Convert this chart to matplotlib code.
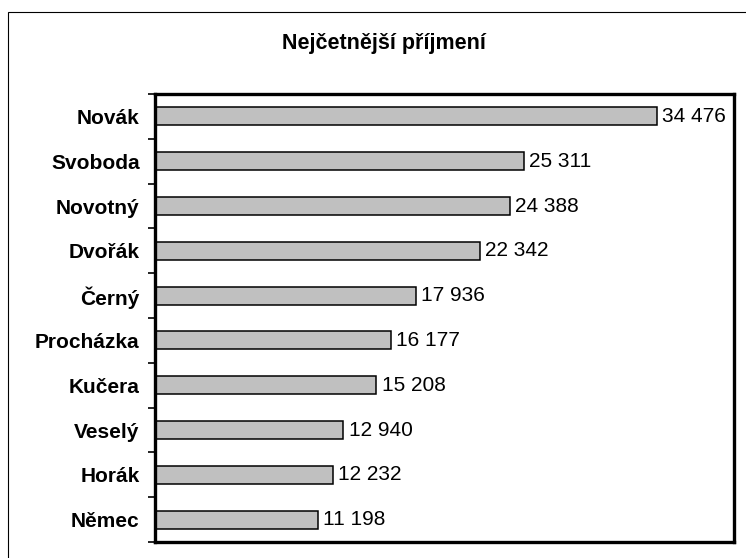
import matplotlib
matplotlib.use('Agg')
import matplotlib.pyplot as plt
from matplotlib.patches import Rectangle
import numpy as np

# most common surnames
names = ['Novák', 'Svoboda', 'Novotný', 'Dvořák', 'Černý',
         'Procházka', 'Kučera', 'Veselý', 'Horák', 'Němec']
counts = [34476, 25311, 24388, 22342, 17936, 16177, 15208, 12940, 12232, 11198]
value_labels = ['34 476', '25 311', '24 388', '22 342', '17 936',
                '16 177', '15 208', '12 940', '12 232', '11 198']

plt.rcParams['font.family'] = ['Liberation Sans', 'DejaVu Sans']

fig = plt.figure(figsize=(7.46, 5.58), dpi=100)
W, H = 746, 558
ax = fig.add_axes([155 / W, 1 - 542 / H, (734 - 155) / W, (542 - 94) / H])

y = np.arange(len(names))
ax.barh(y, counts, height=0.4, color='#c0c0c0', edgecolor='black', linewidth=1.1)

for yi, c, lab in zip(y, counts, value_labels):
    ax.text(c + 350, yi, lab, va='center', ha='left', fontsize=15)

ax.set_xlim(0, 39760)
ax.set_ylim(len(names) - 0.5, -0.5)
ax.set_xticks([])

# labels at centers, tick marks at the category borders
ax.set_yticks(y)
ax.set_yticklabels(names, fontsize=15, fontweight='bold')
ax.tick_params(axis='y', which='major', length=0, pad=11)
ax.set_yticks(np.arange(-0.5, len(names), 1), minor=True)
ax.tick_params(axis='y', which='minor', length=5, width=1.2, direction='out')

for s in ax.spines.values():
    s.set_linewidth(2.4)

fig.text(384 / W, 1 - 43 / H, 'Nejčetnější příjmení', ha='center', va='center',
         fontsize=15.5, fontweight='bold')

# outer chart border
fig.patches.append(Rectangle((8 / W, 0 - 10 / H), (W + 10) / W, (H - 12 + 10) / H,
                             transform=fig.transFigure, fill=False,
                             edgecolor='black', linewidth=0.8))

plt.savefig('out.png', dpi=100)
